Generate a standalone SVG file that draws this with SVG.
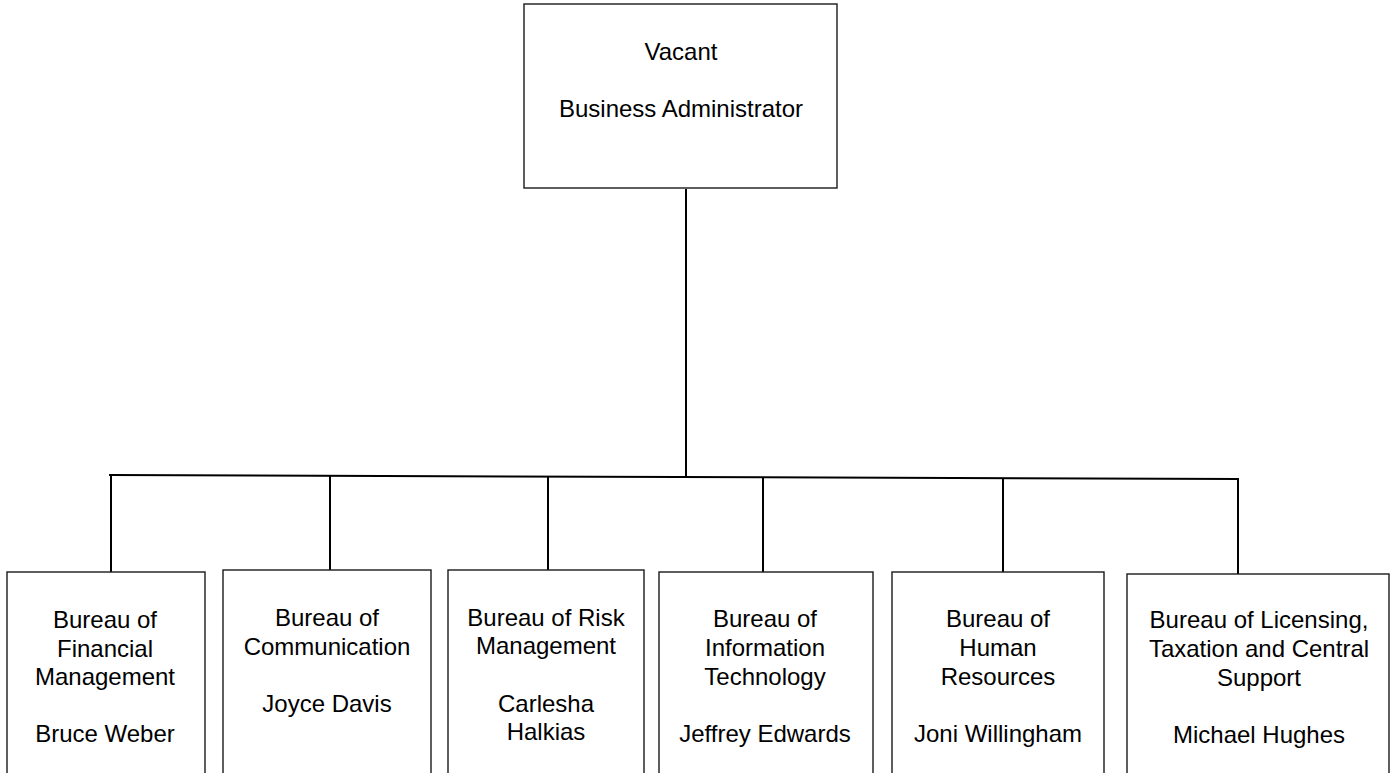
<svg xmlns="http://www.w3.org/2000/svg" width="1394" height="773" viewBox="0 0 1394 773">
<style>
.box{fill:#fff;stroke:#1a1a1a;stroke-width:1.4}
.t{font-family:"Liberation Sans",Arial,sans-serif;font-size:24px;fill:#000;text-anchor:middle}
.c{stroke:#000;stroke-width:2;fill:none}
</style>
<rect width="1394" height="773" fill="#fff"/>
<g id="connectors">
<line class="c" x1="686" y1="189" x2="686" y2="476"/>
<line class="c" x1="109" y1="475" x2="1239" y2="479"/>
<line class="c" x1="111" y1="475" x2="111" y2="572"/>
<line class="c" x1="330" y1="476" x2="330" y2="570"/>
<line class="c" x1="548" y1="476" x2="548" y2="570"/>
<line class="c" x1="763" y1="477" x2="763" y2="572"/>
<line class="c" x1="1003" y1="478" x2="1003" y2="572"/>
<line class="c" x1="1238" y1="479" x2="1238" y2="574"/>
</g>
<g id="ba">
<rect class="box" x="524" y="4" width="313" height="184"/>
<text class="t" x="681" y="60">Vacant</text>
<text class="t" x="681" y="117">Business Administrator</text>
</g>
<g id="bfm">
<rect class="box" x="7" y="572" width="198" height="220"/>
<text class="t" x="105" y="628">Bureau of</text>
<text class="t" x="105" y="657">Financial</text>
<text class="t" x="105" y="685">Management</text>
<text class="t" x="105" y="742">Bruce Weber</text>
</g>
<g id="bc">
<rect class="box" x="223" y="570" width="208" height="220"/>
<text class="t" x="327" y="626">Bureau of</text>
<text class="t" x="327" y="655">Communication</text>
<text class="t" x="327" y="712">Joyce Davis</text>
</g>
<g id="brm">
<rect class="box" x="448" y="570" width="196" height="220"/>
<text class="t" x="546" y="626">Bureau of Risk</text>
<text class="t" x="546" y="654">Management</text>
<text class="t" x="546" y="712">Carlesha</text>
<text class="t" x="546" y="740">Halkias</text>
</g>
<g id="bit">
<rect class="box" x="659" y="572" width="214" height="220"/>
<text class="t" x="765" y="627">Bureau of</text>
<text class="t" x="765" y="656">Information</text>
<text class="t" x="765" y="685">Technology</text>
<text class="t" x="765" y="742">Jeffrey Edwards</text>
</g>
<g id="bhr">
<rect class="box" x="892" y="572" width="212" height="220"/>
<text class="t" x="998" y="627">Bureau of</text>
<text class="t" x="998" y="656">Human</text>
<text class="t" x="998" y="685">Resources</text>
<text class="t" x="998" y="742">Joni Willingham</text>
</g>
<g id="bltcs">
<rect class="box" x="1127" y="574" width="262" height="220"/>
<text class="t" x="1259" y="628">Bureau of Licensing,</text>
<text class="t" x="1259" y="657">Taxation and Central</text>
<text class="t" x="1259" y="686">Support</text>
<text class="t" x="1259" y="743">Michael Hughes</text>
</g>
</svg>
